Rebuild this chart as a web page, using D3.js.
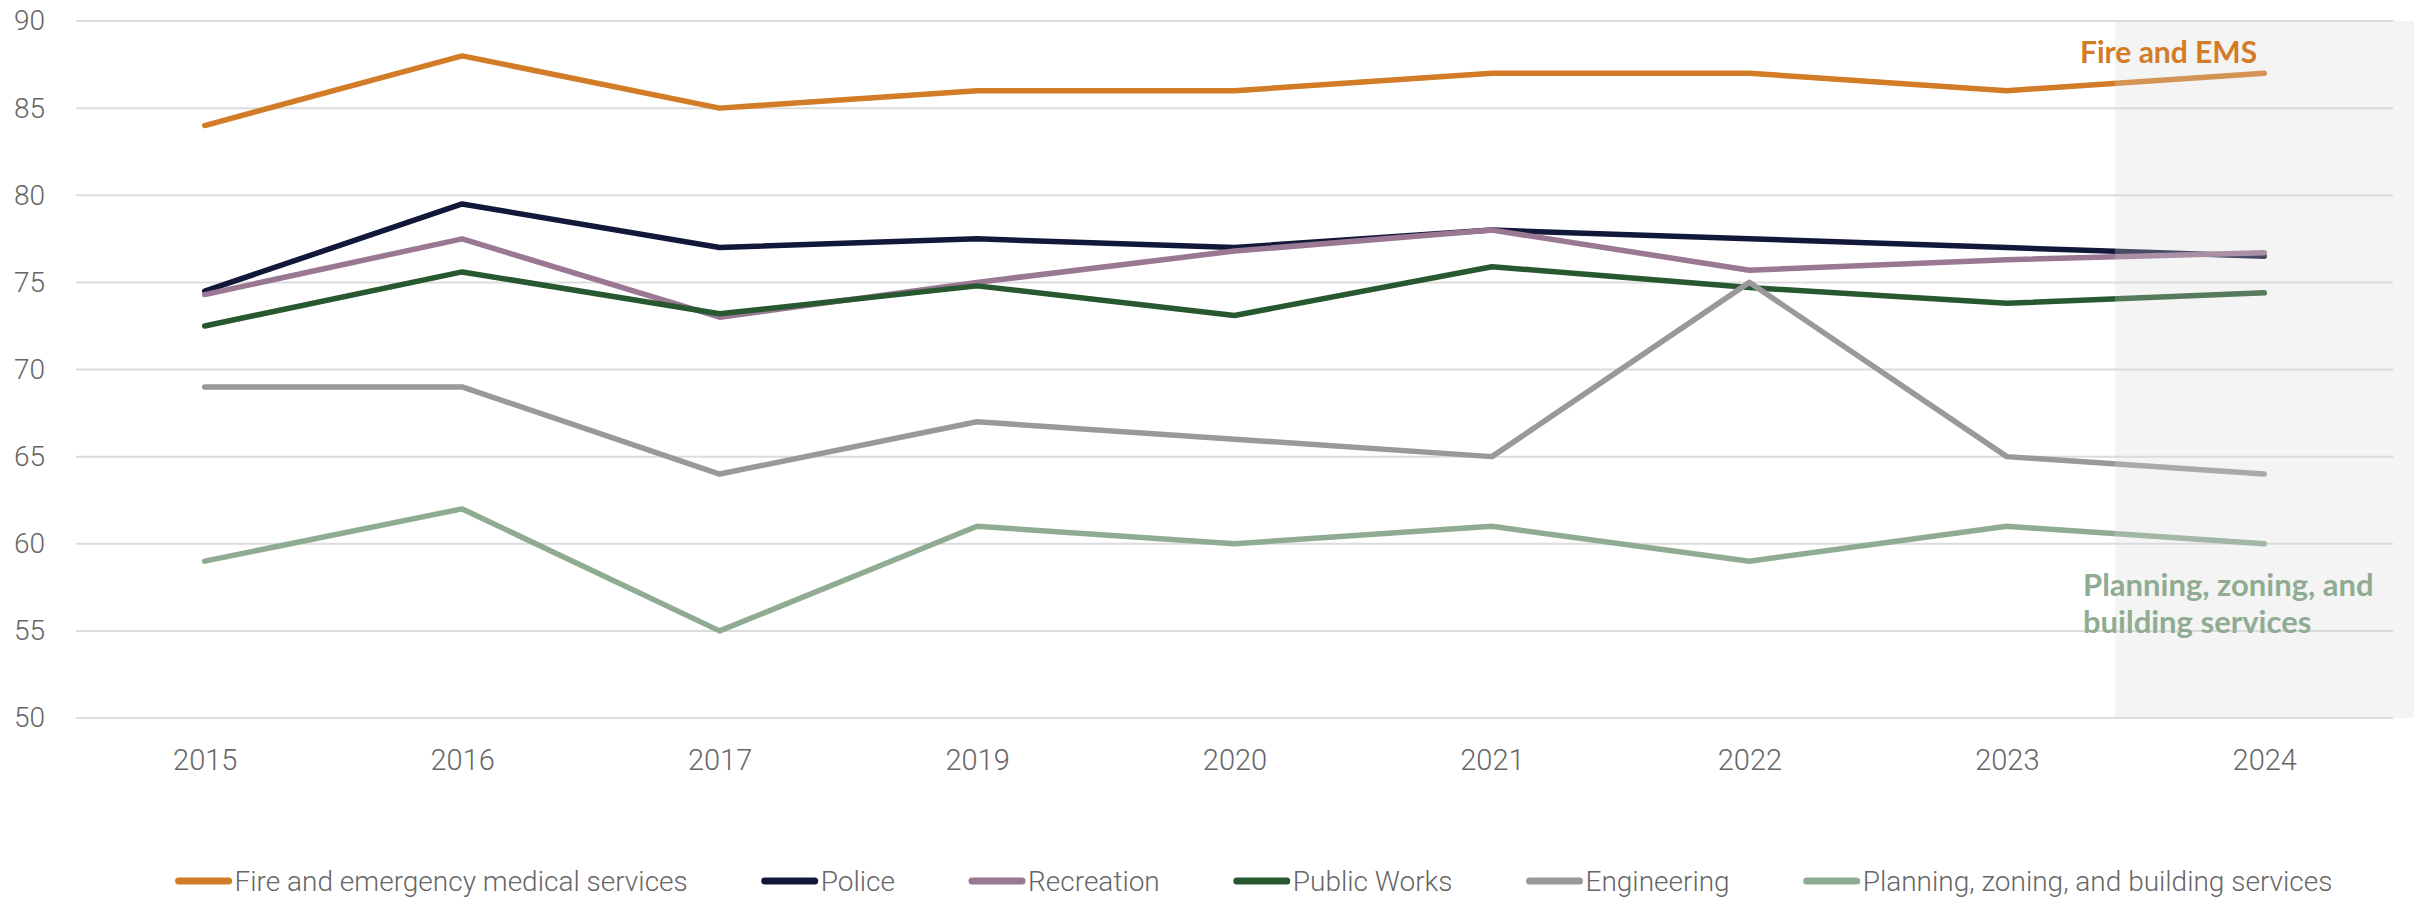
<!DOCTYPE html>
<html lang="en">
<head>
<meta charset="UTF-8">
<title>Service ratings</title>
<style>
  body { margin: 0; background: #fff; }
  .axis text, .legend text { font-family: Roboto, "DejaVu Sans Condensed", sans-serif; font-weight: 300; fill: #666; }
  .note { font-family: Lato, "Open Sans", sans-serif; font-weight: 700; }
</style>
</head>
<body>
<div id="chart"></div>
<script src="https://d3js.org/d3.v7.min.js"></script>
<script>
// data
const years = ["2015", "2016", "2017", "2019", "2020", "2021", "2022", "2023", "2024"];
const fireEms     = [84, 88, 85, 86, 86, 87, 87, 86, 87];
const police      = [74.5, 79.5, 77, 77.5, 77, 78, 77.5, 77, 76.5];
const recreation  = [74.3, 77.5, 73, 75, 76.8, 78, 75.7, 76.3, 76.7];
const publicWorks = [72.5, 75.6, 73.2, 74.8, 73.1, 75.9, 74.7, 73.8, 74.4];
const engineering = [69, 69, 64, 67, 66, 65, 75, 65, 64];
const planning    = [59, 62, 55, 61, 60, 61, 59, 61, 60];
const yTicks = [50, 55, 60, 65, 70, 75, 80, 85, 90];

const series = [
  { name: "Fire and emergency medical services", values: fireEms, color: "#d27c27" },
  { name: "Police", values: police, color: "#12183a" },
  { name: "Recreation", values: recreation, color: "#9a7792" },
  { name: "Public Works", values: publicWorks, color: "#27582f" },
  { name: "Engineering", values: engineering, color: "#999999" },
  { name: "Planning, zoning, and building services", values: planning, color: "#8fac93" }
];

const W = 2425, H = 899;
const plot = { left: 76, right: 2393, top: 21, bottom: 718 };

const svg = d3.select("#chart").append("svg")
  .attr("width", W)
  .attr("height", H);

const x = d3.scalePoint()
  .domain(years)
  .range([plot.left, plot.right])
  .padding(0.5);

const y = d3.scaleLinear()
  .domain([50, 90])
  .range([plot.bottom, plot.top]);

// gridlines
svg.append("g")
  .selectAll("line")
  .data(yTicks)
  .join("line")
    .attr("x1", plot.left)
    .attr("x2", plot.right)
    .attr("y1", d => y(d))
    .attr("y2", d => y(d))
    .attr("stroke", "#dcdcdc")
    .attr("stroke-width", 2);

// y axis labels
const yAxis = svg.append("g")
  .attr("class", "axis")
  .attr("transform", `translate(${plot.left - 31},0)`)
  .call(d3.axisLeft(y).tickValues(yTicks).tickSize(0).tickPadding(0));
yAxis.select(".domain").remove();
yAxis.selectAll("text").style("font-size", "28px");

// x axis labels
const xAxis = svg.append("g")
  .attr("class", "axis")
  .attr("transform", `translate(0,${plot.bottom})`)
  .call(d3.axisBottom(x).tickSize(0).tickPadding(31));
xAxis.select(".domain").remove();
xAxis.selectAll("text").style("font-size", "29px");

// lines
const line = d3.line()
  .x((d, i) => x(years[i]))
  .y(d => y(d));

svg.append("g")
  .selectAll("path")
  .data(series)
  .join("path")
    .attr("d", d => line(d.values))
    .attr("fill", "none")
    .attr("stroke", d => d.color)
    .attr("stroke-width", 5.5)
    .attr("stroke-linecap", "round")
    .attr("stroke-linejoin", "round");

// shaded latest-year band, laid over the lines
const shadeX = x("2024") - 0.58 * x.step();
svg.append("rect")
  .attr("x", shadeX)
  .attr("y", plot.top)
  .attr("width", 2414 - shadeX)
  .attr("height", plot.bottom - plot.top)
  .attr("fill", "rgb(214,214,214)")
  .attr("fill-opacity", 0.27);

// annotations
svg.append("text")
  .attr("class", "note")
  .attr("x", 2080)
  .attr("y", 63)
  .attr("fill", "#d27c27")
  .style("font-size", "30px")
  .text("Fire and EMS");

const pl = svg.append("text")
  .attr("class", "note")
  .attr("x", 2083)
  .attr("y", 596)
  .attr("fill", "#8fac93")
  .style("font-size", "31px");
pl.append("tspan").attr("x", 2083).text("Planning, zoning, and");
pl.append("tspan").attr("x", 2083).attr("dy", 37).text("building services");

// legend
const legend = svg.append("g").attr("class", "legend");
const items = legend.selectAll("g")
  .data(series)
  .join("g");
items.append("line")
  .attr("x1", 3).attr("x2", 53)
  .attr("y1", 0).attr("y2", 0)
  .attr("stroke", d => d.color)
  .attr("stroke-width", 7)
  .attr("stroke-linecap", "round");
items.append("text")
  .attr("x", 59)
  .attr("y", 0)
  .attr("dy", "0.35em")
  .style("font-size", "28px")
  .text(d => d.name);

let cx = 0;
items.each(function() {
  const g = d3.select(this);
  g.attr("transform", `translate(${cx},881)`);
  cx += 59 + g.select("text").node().getComputedTextLength() + 74;
});
const total = cx - 74;
legend.attr("transform", `translate(${1254 - total / 2},0)`);
</script>
</body>
</html>
